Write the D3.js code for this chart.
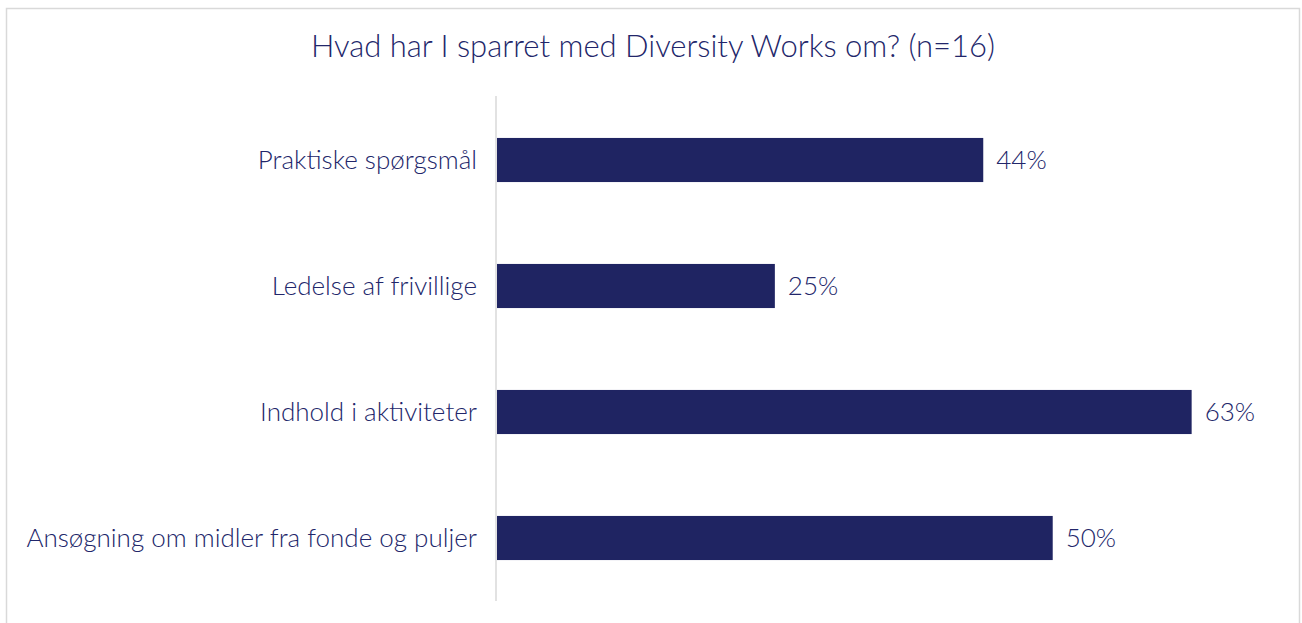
<!DOCTYPE html>
<html>
<head>
<meta charset="utf-8">
<script src="https://cdn.jsdelivr.net/npm/d3@7"></script>
<style>
	body { margin: 0; background: #fff; }
	text { font-family: Lato, "Noto Sans", sans-serif; font-weight: 300; fill: #22266a; }
</style>
</head>
<body>
<div id="chart"></div>
<script>
////////////////////////////////////////////////////////////
///////////////////////// Data /////////////////////////////
////////////////////////////////////////////////////////////

var categories = ["Praktiske spørgsmål", "Ledelse af frivillige", "Indhold i aktiviteter", "Ansøgning om midler fra fonde og puljer"];
var values = [0.4375, 0.25, 0.625, 0.5];
var valueLabels = ["44%", "25%", "63%", "50%"];
var title = "Hvad har I sparret med Diversity Works om? (n=16)";

var width = 1302, height = 623;
var margin = {top: 97, left: 497};

var svg = d3.select("#chart").append("svg")
	.attr("width", width)
	.attr("height", height);

//Chart border
svg.append("rect")
	.attr("x", 6.5).attr("y", 8.5)
	.attr("width", 1293).attr("height", 700)
	.style("fill", "none")
	.style("stroke", "#d9d9d9")
	.style("stroke-width", 1.5);

//Title
svg.append("text")
	.attr("x", 653).attr("y", 57)
	.attr("text-anchor", "middle")
	.style("font-size", "31px")
	.text(title);

////////////////////////////////////////////////////////////
/////////////////////// Scales /////////////////////////////
////////////////////////////////////////////////////////////

var x = d3.scaleLinear().domain([0, 0.7]).range([margin.left, margin.left + 778]);
var y = d3.scaleBand().domain(categories).range([margin.top, margin.top + 504]).paddingInner(0.65).paddingOuter(0.325);

//Bars
svg.selectAll(".bar")
	.data(categories)
	.enter().append("rect")
	.attr("class", "bar")
	.attr("x", x(0))
	.attr("y", function(d) { return y(d); })
	.attr("width", function(d,i) { return x(values[i]) - x(0); })
	.attr("height", y.bandwidth())
	.style("fill", "#1f2462");

//Axis line
svg.append("line")
	.attr("x1", x(0) - 1).attr("x2", x(0) - 1)
	.attr("y1", margin.top - 1).attr("y2", margin.top + 504)
	.style("stroke", "#d9d9d9")
	.style("stroke-width", 1.5);

//Category labels
svg.selectAll(".cat-label")
	.data(categories)
	.enter().append("text")
	.attr("class", "cat-label")
	.attr("x", x(0) - 20)
	.attr("y", function(d) { return y(d) + y.bandwidth()/2; })
	.attr("dy", "0.35em")
	.attr("text-anchor", "end")
	.style("font-size", "26px")
	.text(function(d) { return d; });

//Value labels
svg.selectAll(".value-label")
	.data(categories)
	.enter().append("text")
	.attr("class", "value-label")
	.attr("x", function(d,i) { return x(values[i]) + 13; })
	.attr("y", function(d) { return y(d) + y.bandwidth()/2; })
	.attr("dy", "0.35em")
	.style("font-size", "26px")
	.text(function(d,i) { return valueLabels[i]; });
</script>
</body>
</html>
